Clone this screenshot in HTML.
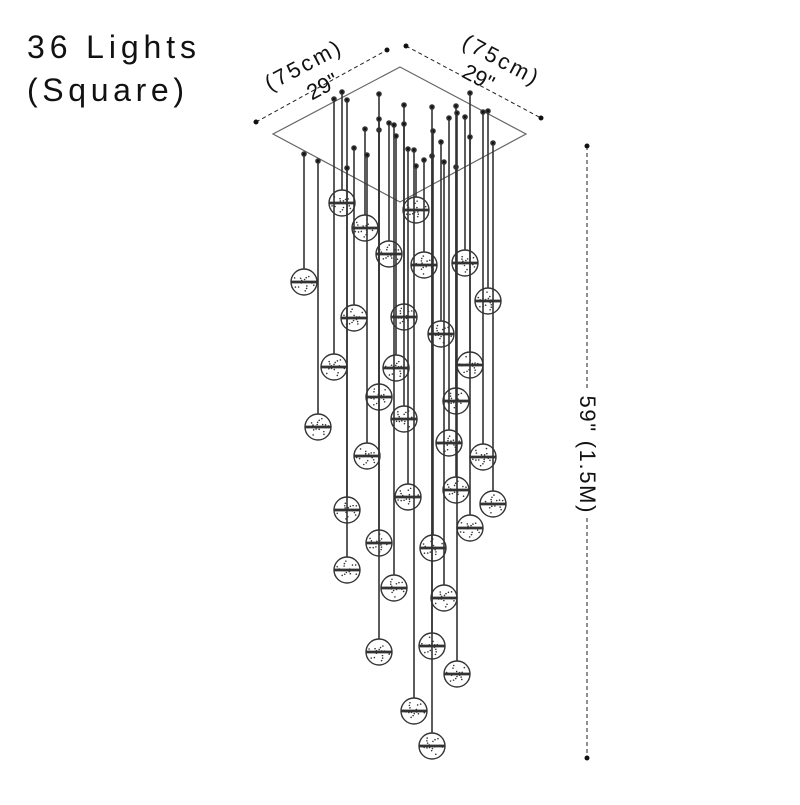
<!DOCTYPE html><html><head><style>body{margin:0;background:#fff}</style></head><body>
<svg width="800" height="800" viewBox="0 0 800 800" xmlns="http://www.w3.org/2000/svg" font-family="Liberation Sans, sans-serif">
<text x="27" y="58" font-size="32" fill="#111" textLength="169">36 Lights</text>
<text x="27" y="101" font-size="32" fill="#111" textLength="157">(Square)</text>
<polygon points="400,67 273,134 400,202 526,134" fill="none" stroke="#666" stroke-width="1.2"/>
<g stroke="#222" stroke-width="1" stroke-dasharray="4,3">
<line x1="256" y1="122" x2="387" y2="50"/><line x1="406" y1="46" x2="541" y2="118"/>
<line x1="587" y1="146" x2="587" y2="390"/><line x1="587" y1="518" x2="587" y2="758"/>
</g>
<g fill="#111"><circle cx="256" cy="122" r="2.5"/><circle cx="387" cy="50" r="2.5"/><circle cx="406" cy="46" r="2.5"/><circle cx="541" cy="118" r="2.5"/><circle cx="587" cy="146" r="2.5"/><circle cx="587" cy="758" r="2.5"/></g>
<g font-size="22" fill="#111" text-anchor="middle">
<text transform="translate(306,72) rotate(-28)" textLength="82">(75cm)</text>
<text transform="translate(326,93) rotate(-28)">29"</text>
<text transform="translate(497,66) rotate(28)" textLength="82">(75cm)</text>
<text transform="translate(475,84) rotate(28)">29"</text>
<text transform="translate(580,454) rotate(90)" textLength="117">59" (1.5M)</text>
</g>
<g id="c" stroke="#333" stroke-width="1.6"></g>
<script>
const g=[[342,203],[365,228],[416,210],[389,254],[424,265],[465,263],[304,282],[488,301],[354,318],[404,317],[441,334],[334,367],[396,368],[470,365],[379,397],[456,401],[404,419],[318,427],[449,443],[367,456],[483,457],[408,497],[456,490],[493,504],[347,510],[470,528],[379,543],[433,548],[347,570],[394,588],[444,598],[379,652],[432,646],[457,674],[414,711],[432,746]];
const ns="http://www.w3.org/2000/svg";const c=document.getElementById('c');
g.forEach((p,i)=>{const [x,y]=p;const top=Math.max(92,Math.min(170,92+((i*37)%80)));
let l=document.createElementNS(ns,'line');l.setAttribute('x1',x);l.setAttribute('x2',x);l.setAttribute('y1',top);l.setAttribute('y2',y-13);c.appendChild(l);
let d=document.createElementNS(ns,'circle');d.setAttribute('cx',x);d.setAttribute('cy',top);d.setAttribute('r',2);d.setAttribute('fill','#111');c.appendChild(d);
let s=document.createElementNS(ns,'circle');s.setAttribute('cx',x);s.setAttribute('cy',y);s.setAttribute('r',13);s.setAttribute('fill','#fff');s.setAttribute('stroke','#333');s.setAttribute('stroke-width','1.4');c.appendChild(s);
let b=document.createElementNS(ns,'line');b.setAttribute('x1',x-13);b.setAttribute('x2',x+13);b.setAttribute('y1',y);b.setAttribute('y2',y);b.setAttribute('stroke-width','2.8');c.appendChild(b);
for(let k=0;k<16;k++){let t=document.createElementNS(ns,'circle');const a=k*1.3+i,r=3+(k%4)*2.5;t.setAttribute('cx',x+Math.cos(a)*r);t.setAttribute('cy',y+Math.sin(a)*r*0.85);t.setAttribute('r',0.8);t.setAttribute('fill','#333');t.setAttribute('stroke','none');c.appendChild(t);}
});
</script>
</svg>
</body></html>
